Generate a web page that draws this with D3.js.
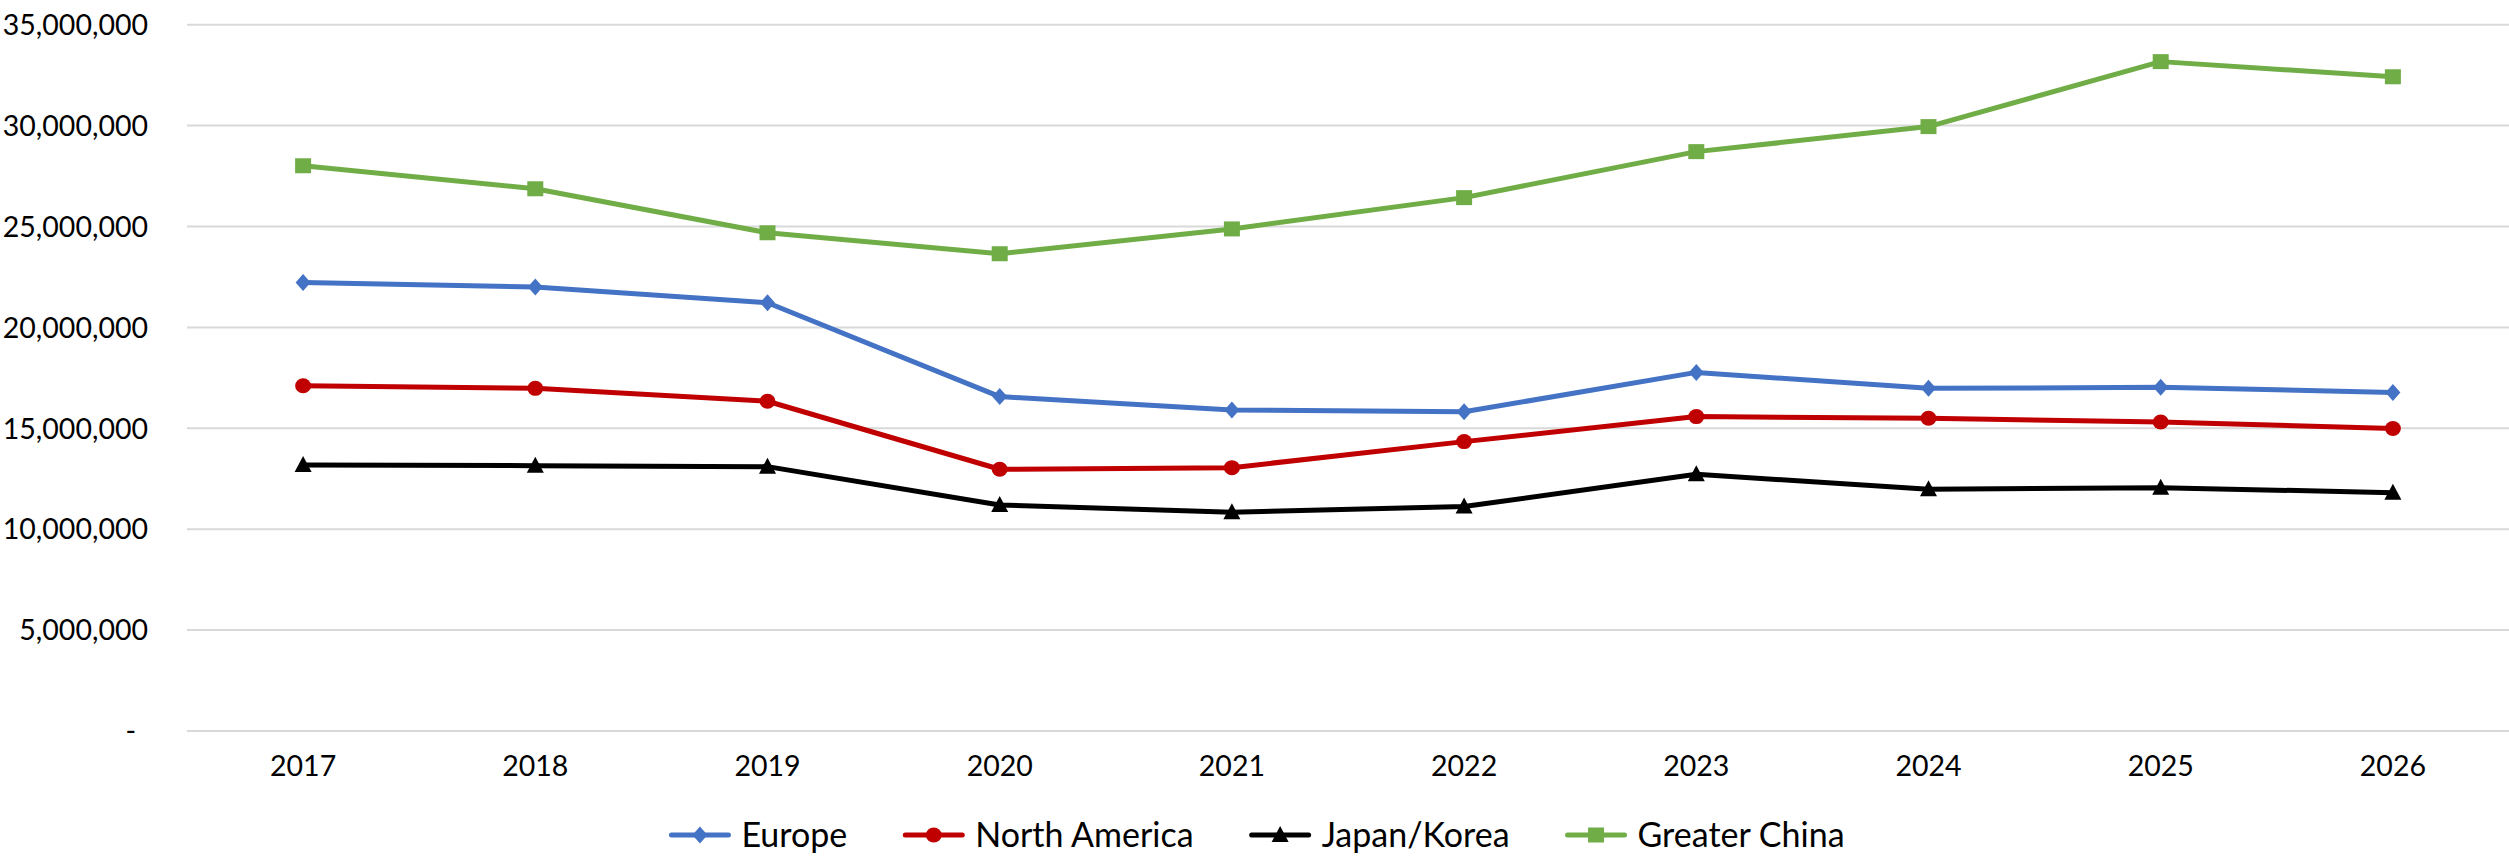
<!DOCTYPE html>
<html>
<head>
<meta charset="utf-8">
<script src="https://cdn.jsdelivr.net/npm/d3@7"></script>
<style>
  html, body { margin: 0; padding: 0; background: #fff; }
  svg text { font-family: Lato, "Liberation Sans", sans-serif; fill: #000; }
</style>
</head>
<body>
<svg id="chart" width="2509" height="858"></svg>
<script>

// values
const years = [2017, 2018, 2019, 2020, 2021, 2022, 2023, 2024, 2025, 2026];
const europe = [22230000, 22000000, 21220000, 16570000, 15910000, 15820000, 17770000, 16980000, 17030000, 16780000];
const northAmerica = [17110000, 16980000, 16340000, 12970000, 13050000, 14340000, 15580000, 15500000, 15310000, 14990000];
const japanKorea = [13180000, 13150000, 13100000, 11200000, 10840000, 11120000, 12720000, 11980000, 12060000, 11810000];
const greaterChina = [28010000, 26870000, 24690000, 23650000, 24880000, 26430000, 28710000, 29950000, 33170000, 32420000];
const yTicks = [0, 5000000, 10000000, 15000000, 20000000, 25000000, 30000000, 35000000];

const seriesNames = ["Europe", "North America", "Japan/Korea", "Greater China"];
const seriesColors = ["#4472C4", "#C00000", "#000000", "#70AD47"];
const seriesMarkers = ["diamond", "circle", "triangle", "square"];

const series = [europe, northAmerica, japanKorea, greaterChina].map((vals, i) => ({
    name: seriesNames[i],
    color: seriesColors[i],
    marker: seriesMarkers[i],
    values: vals.map((v, j) => ({year: years[j], value: v}))
}));

const svg = d3.select("#chart");
const plotL = 187, plotR = 2509, plotT = 24.7, plotB = 731;

const x = d3.scaleBand()
    .domain(years)
    .range([plotL, plotR])
    .paddingInner(0).paddingOuter(0);
const cx = (d) => x(d) + x.bandwidth() / 2;

const y = d3.scaleLinear()
    .domain([0, 35000000])
    .range([plotB, plotT]);

// grid
svg.append("g").selectAll("line")
    .data(yTicks)
    .enter().append("line")
    .attr("x1", plotL).attr("x2", plotR)
    .attr("y1", d => y(d)).attr("y2", d => y(d))
    .attr("stroke", "#D9D9D9")
    .attr("stroke-width", 2);

// y axis labels
const fmt = d3.format(",");
const yAxis = d3.axisLeft(y)
    .tickValues(yTicks)
    .tickSize(0)
    .tickPadding(0)
    .tickFormat(d => d === 0 ? "-" : fmt(d));
const gy = svg.append("g").attr("transform", "translate(148,0)").call(yAxis);
gy.select(".domain").remove();
gy.selectAll("text")
    .style("font-size", "28.5px")
    .attr("dy", "0.34em")
    .attr("dx", d => d === 0 ? -12 : 0);

// x axis labels
const xAxis = d3.axisBottom(x).tickSize(0).tickPadding(0);
const gx = svg.append("g").attr("transform", "translate(0,753)").call(xAxis);
gx.select(".domain").remove();
gx.selectAll("text").style("font-size", "28.5px").attr("dy", "0.8em");

function markerPath(type){
    if (type === "diamond") return "M0,-8.5L7.5,0L0,8.5L-7.5,0Z";
    if (type === "triangle") return "M0,-9L8.5,7L-8.5,7Z";
    if (type === "square") return "M-8,-7.5H8V7.5H-8Z";
    return null;
}

function drawMarker(g, s){
    if (s.marker === "circle") {
        g.append("ellipse").attr("rx", 8).attr("ry", 7.5).attr("fill", s.color);
    } else {
        g.append("path").attr("d", markerPath(s.marker)).attr("fill", s.color);
    }
}

const line = d3.line()
    .x(d => cx(d.year))
    .y(d => y(d.value));

series.forEach((s) => {
    const g = svg.append("g");
    g.append("path")
        .datum(s.values)
        .attr("d", line)
        .attr("fill", "none")
        .attr("stroke", s.color)
        .attr("stroke-width", 5)
        .attr("stroke-linejoin", "round");
    g.selectAll(".pt")
        .data(s.values)
        .enter().append("g")
        .attr("class", "pt")
        .attr("transform", d => "translate(" + cx(d.year) + "," + y(d.value) + ")")
        .each(function(){ drawMarker(d3.select(this), s); });
});

// legend
const legend = svg.append("g");
let lx = 0;
series.forEach((s) => {
    const item = legend.append("g").attr("transform", "translate(" + lx + ",0)");
    item.append("line")
        .attr("x1", 0).attr("x2", 57)
        .attr("stroke", s.color)
        .attr("stroke-width", 5)
        .attr("stroke-linecap", "round");
    drawMarker(item.append("g").attr("transform", "translate(28.5,0)"), s);
    const t = item.append("text")
        .attr("x", 70)
        .attr("dy", "0.36em")
        .style("font-size", "34px")
        .text(s.name);
    lx += 70 + t.node().getComputedTextLength() + 58;
});
lx -= 58;
legend.attr("transform", "translate(" + (1258 - lx / 2) + ",835)");

</script>
</body>
</html>
